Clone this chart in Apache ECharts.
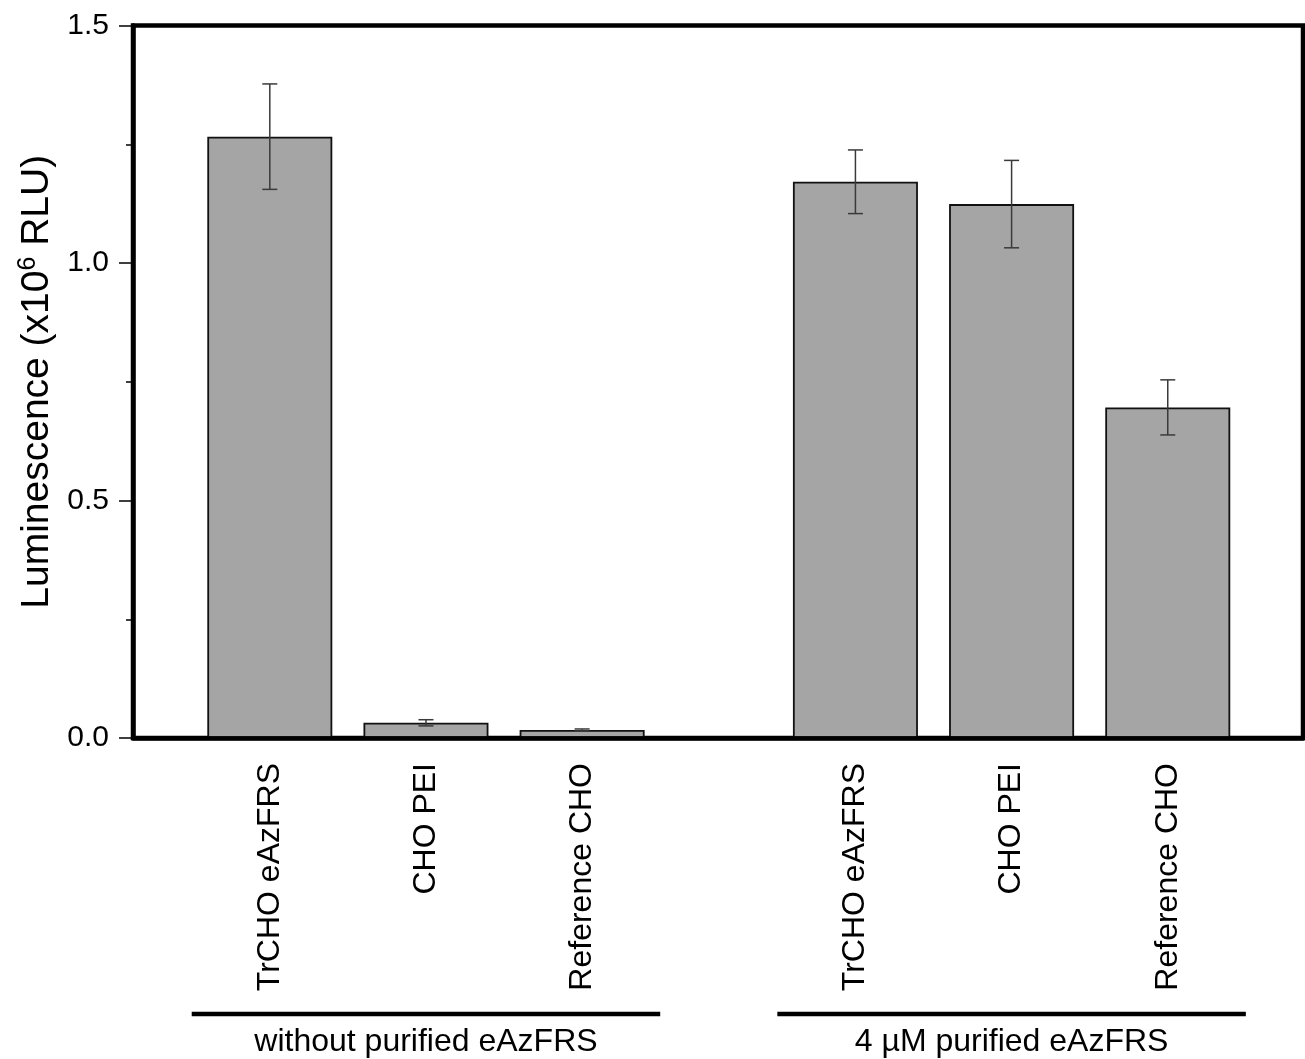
<!DOCTYPE html>
<html>
<head>
<meta charset="utf-8">
<script src="https://cdn.jsdelivr.net/npm/echarts@6/dist/echarts.min.js"></script>
<style>
  html, body { margin: 0; padding: 0; background: #fff; }
  #chart { width: 1305px; height: 1059px; }
</style>
</head>
<body>
<div id="chart"></div>
<script>
// Bar labels, their x positions (the two groups are separated by a wider gap)
const categories = ['TrCHO eAzFRS', 'CHO PEI', 'Reference CHO', 'TrCHO eAzFRS', 'CHO PEI', 'Reference CHO'];
const positions = [1, 2, 3, 4.75, 5.75, 6.75];
// Mean luminescence (x10^6 RLU) and standard deviation
const means = [1.266, 0.032, 0.017, 1.171, 1.124, 0.696];
const errors = [0.111, 0.0065, 0.002, 0.067, 0.092, 0.058];
// Group captions and the x range each bracket spans
const groupNames = ['without purified eAzFRS', '4 \u00B5M purified eAzFRS'];
const groupSpans = [[0.5, 3.5], [4.25, 7.25]];
// Y axis
const yMin = 0, yMax = 1.5, yStep = 0.5;

const FONT = '"Liberation Sans", Arial, sans-serif';

const barData = positions.map((x, i) => [x, means[i]]);
const errData = positions.map((x, i) => [x, means[i] - errors[i], means[i] + errors[i]]);

const chart = echarts.init(document.getElementById('chart'), null, { renderer: 'canvas' });

const option = {
  animation: false,
  backgroundColor: '#fff',
  grid: {
    left: 133, right: 2, top: 25.5, bottom: 321,
    show: true, borderColor: '#000', borderWidth: 4.5, backgroundColor: 'transparent'
  },
  xAxis: {
    type: 'value',
    min: 0.124, max: 7.616,
    z: 10,
    splitLine: { show: false },
    axisLine: { show: true, lineStyle: { color: '#000', width: 4.5 } },
    axisTick: { show: false },
    axisLabel: {
      customValues: positions,
      formatter: v => categories[positions.indexOf(v)],
      rotate: 90,
      margin: 25,
      color: '#000',
      fontSize: 32,
      fontFamily: FONT
    }
  },
  yAxis: {
    type: 'value',
    min: yMin, max: yMax, interval: yStep,
    z: 10,
    name: '{a|Luminescence (x10}{s|6}{a| RLU)}',
    nameLocation: 'middle',
    nameGap: 72,
    nameRotate: 90,
    nameTextStyle: {
      rich: {
        a: { fontSize: 39, fontFamily: FONT, color: '#000', lineHeight: 42 },
        s: { fontSize: 25, fontFamily: FONT, color: '#000', verticalAlign: 'top', lineHeight: 42 }
      }
    },
    splitLine: { show: false },
    axisLine: { show: true, lineStyle: { color: '#000', width: 4.5 } },
    axisTick: { show: true, inside: false, length: 14, lineStyle: { color: '#000', width: 1.5 } },
    minorTick: { show: true, splitNumber: 2, length: 7, lineStyle: { color: '#000', width: 1.5 } },
    axisLabel: {
      formatter: v => v.toFixed(1),
      color: '#000',
      fontSize: 30,
      fontFamily: FONT,
      margin: 24
    }
  },
  series: [
    {
      type: 'bar',
      data: barData,
      barWidth: 125,
      itemStyle: { color: '#a5a5a5', borderColor: '#111', borderWidth: 1.8 },
      z: 2
    },
    {
      type: 'custom',
      data: errData,
      z: 3,
      renderItem: (params, api) => {
        const x = api.value(0);
        const lo = api.coord([x, api.value(1)]);
        const hi = api.coord([x, api.value(2)]);
        const cap = 7.5;
        const style = { stroke: '#3a3a3a', lineWidth: 1.5 };
        return {
          type: 'group',
          children: [
            { type: 'line', shape: { x1: lo[0], y1: lo[1], x2: hi[0], y2: hi[1] }, style },
            { type: 'line', shape: { x1: hi[0] - cap, y1: hi[1], x2: hi[0] + cap, y2: hi[1] }, style },
            { type: 'line', shape: { x1: lo[0] - cap, y1: lo[1], x2: lo[0] + cap, y2: lo[1] }, style }
          ]
        };
      }
    }
  ]
};

chart.setOption(option);

// Group brackets under the category labels, placed from the x scale
const bracketY = 1014;
const captionY = 1042;
const graphics = [];
groupSpans.forEach((span, i) => {
  const p0 = chart.convertToPixel({ xAxisIndex: 0, yAxisIndex: 0 }, [span[0], 0]);
  const p1 = chart.convertToPixel({ xAxisIndex: 0, yAxisIndex: 0 }, [span[1], 0]);
  graphics.push({
    type: 'line',
    shape: { x1: p0[0], y1: bracketY, x2: p1[0], y2: bracketY },
    style: { stroke: '#000', lineWidth: 4.5 }
  });
  graphics.push({
    type: 'text',
    x: (p0[0] + p1[0]) / 2,
    y: captionY,
    style: {
      text: groupNames[i],
      fill: '#000',
      font: '32px ' + FONT,
      align: 'center',
      verticalAlign: 'middle'
    }
  });
});
chart.setOption({ graphic: graphics });
</script>
</body>
</html>
